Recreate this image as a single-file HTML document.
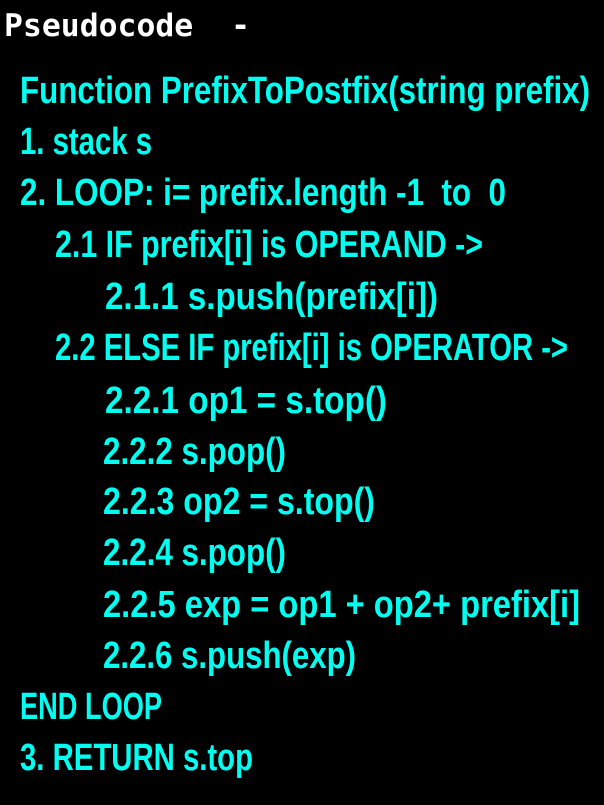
<!DOCTYPE html>
<html><head><style>
html,body{margin:0;padding:0;background:#000;width:604px;height:805px;overflow:hidden}
svg{display:block}
</style></head><body>
<svg width="604" height="805" xmlns="http://www.w3.org/2000/svg">
<rect width="604" height="805" fill="#000"/>
<text x="4" y="36" fill="#fff" font-family="DejaVu Sans Mono, Liberation Mono, monospace" font-weight="bold" font-size="31" textLength="246" lengthAdjust="spacingAndGlyphs" xml:space="preserve">Pseudocode  -</text>
<g fill="#00fff0" font-family="Liberation Sans Narrow, Liberation Sans, sans-serif" font-weight="bold" font-size="38" lengthAdjust="spacingAndGlyphs">
<text x="20" y="103" textLength="570" lengthAdjust="spacingAndGlyphs">Function PrefixToPostfix(string prefix)</text>
<text x="20" y="154" textLength="132" lengthAdjust="spacingAndGlyphs">1. stack s</text>
<text x="20" y="205" textLength="486" lengthAdjust="spacingAndGlyphs" xml:space="preserve">2. LOOP: i= prefix.length -1  to  0</text>
<text x="55" y="257" textLength="428" lengthAdjust="spacingAndGlyphs">2.1 IF prefix[i] is OPERAND -&gt;</text>
<text x="105" y="309" textLength="333" lengthAdjust="spacingAndGlyphs">2.1.1 s.push(prefix[i])</text>
<text x="55" y="360" textLength="513" lengthAdjust="spacingAndGlyphs">2.2 ELSE IF prefix[i] is OPERATOR -&gt;</text>
<text x="105" y="413" textLength="282" lengthAdjust="spacingAndGlyphs">2.2.1 op1 = s.top()</text>
<text x="103" y="464" textLength="183" lengthAdjust="spacingAndGlyphs">2.2.2 s.pop()</text>
<text x="103" y="514" textLength="272" lengthAdjust="spacingAndGlyphs">2.2.3 op2 = s.top()</text>
<text x="103" y="565" textLength="183" lengthAdjust="spacingAndGlyphs">2.2.4 s.pop()</text>
<text x="103" y="617" textLength="477" lengthAdjust="spacingAndGlyphs">2.2.5 exp = op1 + op2+ prefix[i]</text>
<text x="103" y="668" textLength="253" lengthAdjust="spacingAndGlyphs">2.2.6 s.push(exp)</text>
<text x="20" y="719" textLength="142" lengthAdjust="spacingAndGlyphs">END LOOP</text>
<text x="20" y="770" textLength="233" lengthAdjust="spacingAndGlyphs">3. RETURN s.top</text>
</g>
</svg>
</body></html>
